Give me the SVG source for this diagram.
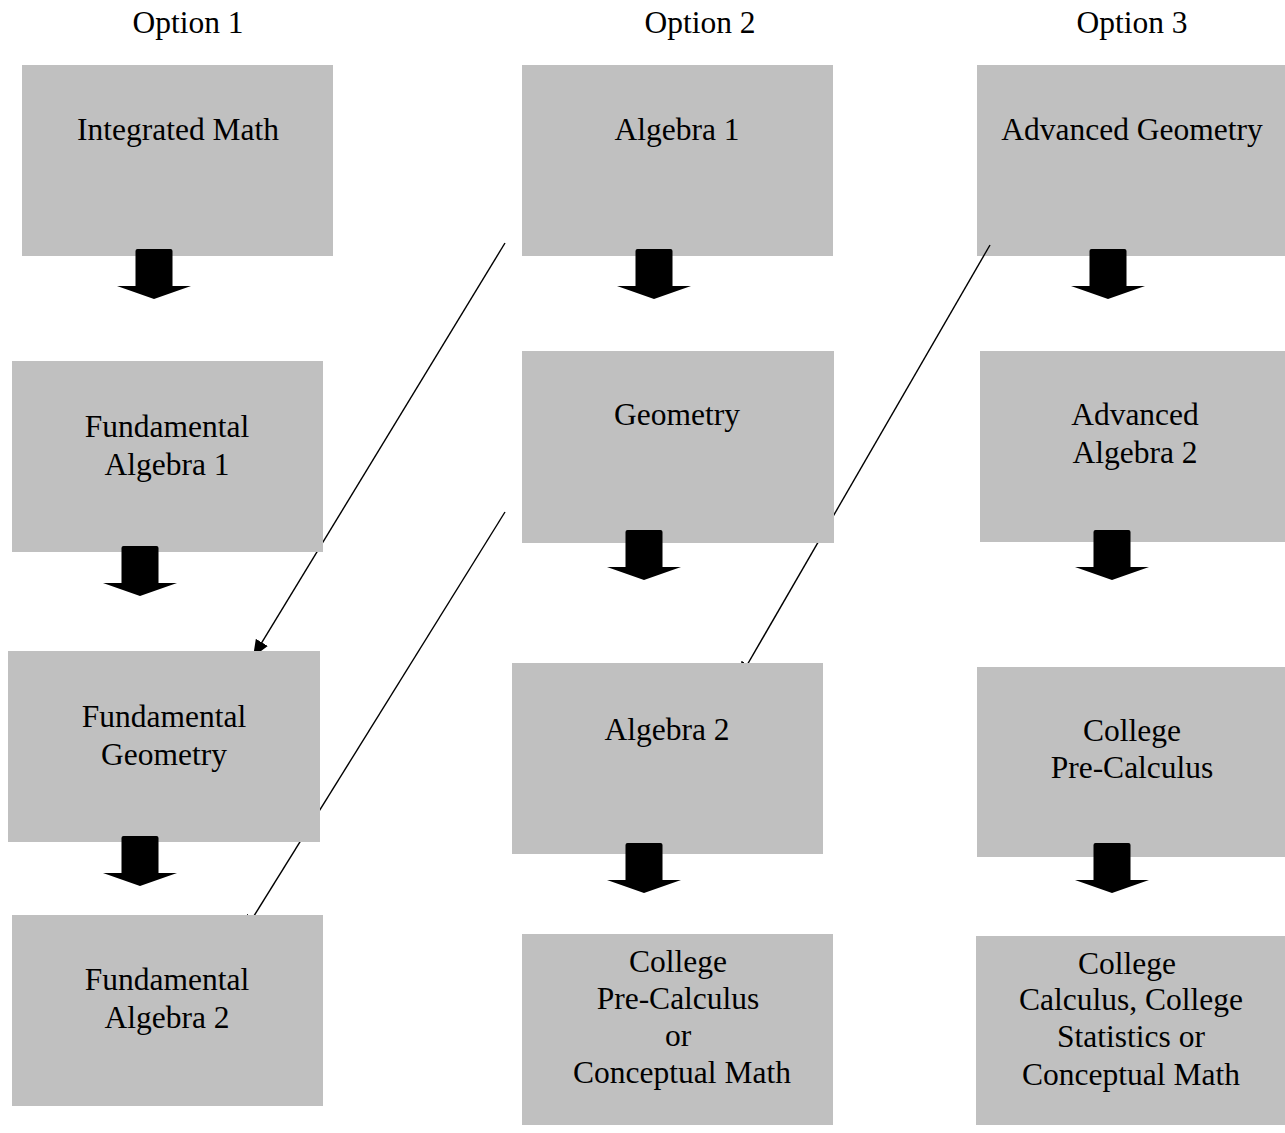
<svg xmlns="http://www.w3.org/2000/svg" width="1285" height="1133" viewBox="0 0 1285 1133">
<style>
  .box { fill: #c0c0c0; }
  .t { font-family: "Liberation Serif", "Times New Roman", serif; font-size: 31.5px; fill: #000; text-anchor: middle; }
  .conn { stroke: #000; stroke-width: 1.4; fill: none; marker-end: url(#ah); }
  .blk { fill: #000; }
</style>
<defs>
  <marker id="ah" viewBox="0 0 10 10" refX="10" refY="5" markerWidth="17" markerHeight="14" markerUnits="userSpaceOnUse" orient="auto" preserveAspectRatio="none">
    <path d="M0,0 L10,5 L0,10 z" fill="#000"/>
  </marker>
  <path id="blockArrow" d="M-18.5,2 Q-18.5,0 -16.5,0 L16.5,0 Q18.5,0 18.5,2 L18.5,37 L37,37 L0,50 L-37,37 L-18.5,37 z"/>
</defs>
<rect width="1285" height="1133" fill="#fff"/>

<g id="headers">
  <text class="t" x="188" y="33">Option 1</text>
  <text class="t" x="700" y="33">Option 2</text>
  <text class="t" x="1132" y="33">Option 3</text>
</g>

<g id="advanced-geometry">
  <rect class="box" x="977" y="65" width="308" height="191"/>
  <text class="t" x="1132" y="140">Advanced Geometry</text>
</g>

<g id="connectors">
  <line class="conn" x1="505" y1="243" x2="253" y2="657"/>
  <line class="conn" x1="505" y1="512" x2="244" y2="932"/>
  <line class="conn" x1="990" y1="245" x2="739" y2="679"/>
</g>

<g id="integrated-math">
  <rect class="box" x="22" y="65" width="311" height="191"/>
  <text class="t" x="178" y="140">Integrated Math</text>
</g>
<g id="fundamental-algebra-1">
  <rect class="box" x="12" y="361" width="311" height="191"/>
  <text class="t" x="167" y="437">Fundamental</text>
  <text class="t" x="167" y="475">Algebra 1</text>
</g>
<g id="fundamental-geometry">
  <rect class="box" x="8" y="651" width="312" height="191"/>
  <text class="t" x="164" y="727">Fundamental</text>
  <text class="t" x="164" y="765">Geometry</text>
</g>
<g id="fundamental-algebra-2">
  <rect class="box" x="12" y="915" width="311" height="191"/>
  <text class="t" x="167" y="990">Fundamental</text>
  <text class="t" x="167" y="1028">Algebra 2</text>
</g>

<g id="algebra-1">
  <rect class="box" x="522" y="65" width="311" height="191"/>
  <text class="t" x="677" y="140">Algebra 1</text>
</g>
<g id="geometry">
  <rect class="box" x="522" y="351" width="312" height="192"/>
  <text class="t" x="677" y="425">Geometry</text>
</g>
<g id="algebra-2">
  <rect class="box" x="512" y="663" width="311" height="191"/>
  <text class="t" x="667" y="740">Algebra 2</text>
</g>
<g id="college-precalc-or-conceptual">
  <rect class="box" x="522" y="934" width="311" height="191"/>
  <text class="t" x="678" y="972">College</text>
  <text class="t" x="678" y="1009">Pre-Calculus</text>
  <text class="t" x="678" y="1046">or</text>
  <text class="t" x="682" y="1083">Conceptual Math</text>
</g>

<g id="advanced-algebra-2">
  <rect class="box" x="980" y="351" width="305" height="191"/>
  <text class="t" x="1135" y="425">Advanced</text>
  <text class="t" x="1135" y="463">Algebra 2</text>
</g>
<g id="college-precalculus">
  <rect class="box" x="977" y="667" width="308" height="190"/>
  <text class="t" x="1132" y="741">College</text>
  <text class="t" x="1132" y="778">Pre-Calculus</text>
</g>
<g id="college-calculus-statistics">
  <rect class="box" x="976" y="936" width="309" height="189"/>
  <text class="t" x="1127" y="974">College</text>
  <text class="t" x="1131" y="1010">Calculus, College</text>
  <text class="t" x="1131" y="1047">Statistics or</text>
  <text class="t" x="1131" y="1085">Conceptual Math</text>
</g>

<g id="block-arrows">
  <use href="#blockArrow" class="blk" x="154" y="249"/>
  <use href="#blockArrow" class="blk" x="140" y="546"/>
  <use href="#blockArrow" class="blk" x="140" y="836"/>
  <use href="#blockArrow" class="blk" x="654" y="249"/>
  <use href="#blockArrow" class="blk" x="644" y="530"/>
  <use href="#blockArrow" class="blk" x="644" y="843"/>
  <use href="#blockArrow" class="blk" x="1108" y="249"/>
  <use href="#blockArrow" class="blk" x="1112" y="530"/>
  <use href="#blockArrow" class="blk" x="1112" y="843"/>
</g>
</svg>
